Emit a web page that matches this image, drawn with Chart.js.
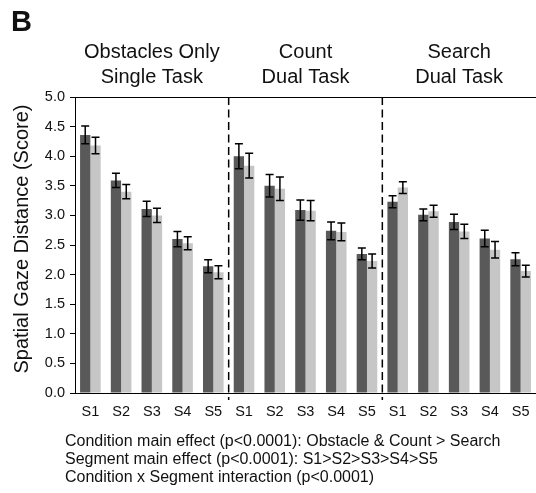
<!DOCTYPE html>
<html>
<head>
<meta charset="utf-8">
<script src="https://cdn.jsdelivr.net/npm/chart.js@4/dist/chart.umd.min.js"></script>
<style>
  html, body { margin: 0; padding: 0; background: #fff; }
  #wrap { width: 536px; height: 493px; position: relative; }
</style>
</head>
<body>
<div id="wrap"><canvas id="chart" width="536" height="493"></canvas></div>
<script>
// Panel content
const panelLetter = 'B';
const conditions = [
  ['Obstacles Only', 'Single Task'],
  ['Count', 'Dual Task'],
  ['Search', 'Dual Task']
];
const segments = ['S1', 'S2', 'S3', 'S4', 'S5'];
const yTicks = [0, 0.5, 1, 1.5, 2, 2.5, 3, 3.5, 4, 4.5, 5];
const yTitle = 'Spatial Gaze Distance (Score)';
const notes = [
  'Condition main effect (p<0.0001): Obstacle & Count > Search',
  'Segment main effect (p<0.0001): S1>S2>S3>S4>S5',
  'Condition x Segment interaction (p<0.0001)'
];

// Mean scores, 5 segments per condition (Obstacles, Count, Search)
const darkMeans  = [4.36, 3.59, 3.11, 2.60, 2.14,  4.00, 3.50, 3.09, 2.74, 2.35,  3.23, 3.01, 2.89, 2.61, 2.26];
const darkErrors = [0.15, 0.12, 0.13, 0.13, 0.11,  0.21, 0.19, 0.17, 0.15, 0.10,  0.10, 0.10, 0.13, 0.14, 0.11];
const lightMeans  = [4.18, 3.40, 3.00, 2.53, 2.04,  3.84, 3.45, 3.08, 2.72, 2.23,  3.47, 3.07, 2.73, 2.42, 2.06];
const lightErrors = [0.14, 0.12, 0.12, 0.11, 0.11,  0.21, 0.20, 0.17, 0.15, 0.12,  0.10, 0.10, 0.12, 0.14, 0.10];

const labels = [];
conditions.forEach(() => segments.forEach(s => labels.push(s)));

const TEXT = '#111';
const FONT = '"Liberation Sans", Arial, sans-serif';

// Error bars, group dividers, top frame line and all annotation text
const decorations = {
  id: 'decorations',
  afterDatasetsDraw(chart) {
    const ctx = chart.ctx;
    const y = chart.scales.y;
    const errs = [darkErrors, lightErrors];
    ctx.save();
    ctx.strokeStyle = '#000';
    ctx.lineWidth = 1.5;
    chart.data.datasets.forEach((ds, di) => {
      const meta = chart.getDatasetMeta(di);
      meta.data.forEach((bar, i) => {
        const v = ds.data[i], e = errs[di][i];
        const yt = y.getPixelForValue(v + e), yb = y.getPixelForValue(v - e);
        const x = bar.x, cap = 4;
        ctx.beginPath();
        ctx.moveTo(x, yt); ctx.lineTo(x, yb);
        ctx.moveTo(x - cap, yt); ctx.lineTo(x + cap, yt);
        ctx.moveTo(x - cap, yb); ctx.lineTo(x + cap, yb);
        ctx.stroke();
      });
    });
    ctx.restore();
  },
  afterDraw(chart) {
    const ctx = chart.ctx;
    const x = chart.scales.x;
    const area = chart.chartArea;
    const n = segments.length;
    ctx.save();

    // top frame line
    ctx.strokeStyle = '#000';
    ctx.lineWidth = 1;
    ctx.beginPath();
    ctx.moveTo(area.left, Math.round(area.top) + 0.5);
    ctx.lineTo(chart.width, Math.round(area.top) + 0.5);
    ctx.stroke();

    // dashed dividers between conditions
    ctx.lineWidth = 1.5;
    ctx.setLineDash([8, 4.5]);
    for (let g = 1; g < conditions.length; g++) {
      const xp = (x.getPixelForValue(g * n - 1) + x.getPixelForValue(g * n)) / 2;
      ctx.beginPath();
      ctx.moveTo(xp, area.top);
      ctx.lineTo(xp, area.bottom + 7);
      ctx.stroke();
    }
    ctx.setLineDash([]);

    ctx.fillStyle = TEXT;
    // panel letter
    ctx.font = 'bold 29px ' + FONT;
    ctx.textAlign = 'left';
    ctx.textBaseline = 'alphabetic';
    ctx.fillText(panelLetter, 11, 31);

    // condition headings
    ctx.font = '20px ' + FONT;
    ctx.textAlign = 'center';
    conditions.forEach((lines, g) => {
      const cx = x.getPixelForValue(g * n + (n - 1) / 2);
      lines.forEach((t, k) => ctx.fillText(t, cx, 58 + k * 25));
    });

    // y axis title
    ctx.save();
    ctx.translate(28, 239);
    ctx.rotate(-Math.PI / 2);
    ctx.textAlign = 'center';
    ctx.textBaseline = 'alphabetic';
    ctx.fillText(yTitle, 0, 0);
    ctx.restore();

    // statistics notes
    ctx.font = '16px ' + FONT;
    ctx.textAlign = 'left';
    notes.forEach((t, k) => ctx.fillText(t, 65, 446 + k * 18));

    ctx.restore();
  }
};

new Chart(document.getElementById('chart'), {
  type: 'bar',
  data: {
    labels: labels,
    datasets: [
      { data: darkMeans, backgroundColor: '#595959', borderWidth: 0 },
      { data: lightMeans, backgroundColor: '#c6c6c6', borderWidth: 0 }
    ]
  },
  options: {
    responsive: false,
    animation: false,
    devicePixelRatio: 1,
    layout: { padding: { top: 97, right: 0, bottom: 0, left: 0 } },
    plugins: { legend: { display: false }, tooltip: { enabled: false }, title: { display: false } },
    datasets: { bar: { categoryPercentage: 0.67, barPercentage: 1.0 } },
    scales: {
      x: {
        grid: { display: false },
        border: { display: true, color: '#000', width: 1 },
        ticks: { color: TEXT, font: { family: FONT, size: 14.5 }, padding: 2, maxRotation: 0, autoSkip: false },
        afterFit(s) { s.height = 100; }
      },
      y: {
        min: 0, max: 5,
        afterBuildTicks(s) { s.ticks = yTicks.map(v => ({ value: v })); },
        grid: { drawOnChartArea: false, drawTicks: true, tickLength: 5, color: '#000' },
        border: { display: true, color: '#000', width: 1 },
        ticks: { color: TEXT, font: { family: FONT, size: 14.5 }, padding: 5, callback: v => Number(v).toFixed(1) },
        afterFit(s) { s.width = 75; }
      }
    }
  },
  plugins: [decorations]
});
</script>
</body>
</html>
